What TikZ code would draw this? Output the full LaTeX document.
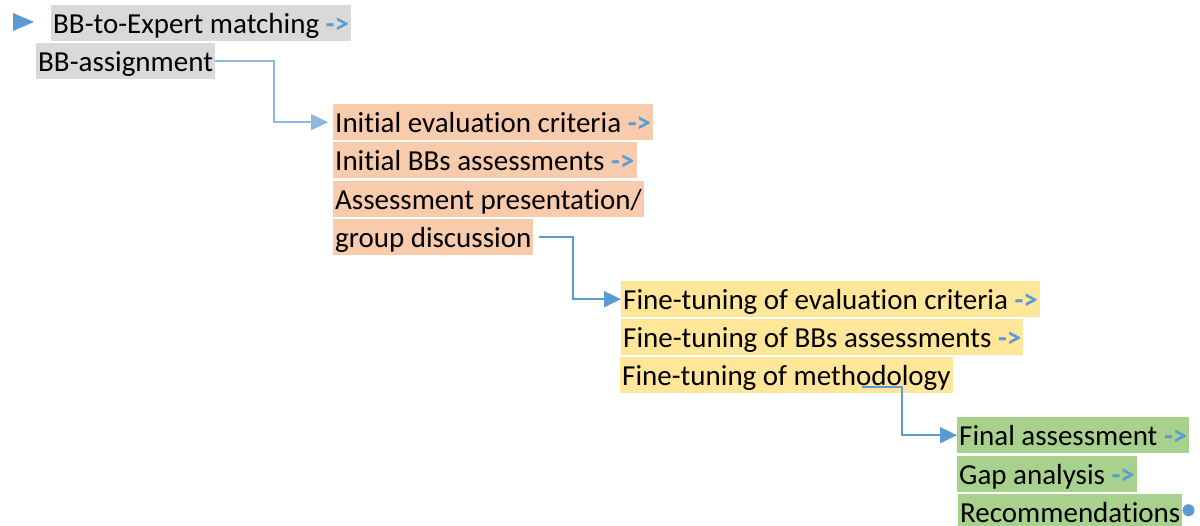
\documentclass[tikz,border=0pt]{standalone}
\usepackage{fontspec}
\setmainfont{Carlito}[Ligatures=NoCommon]
\usetikzlibrary{arrows.meta,calc}
\definecolor{hlgray}{HTML}{D9D9D9}
\definecolor{hlpeach}{HTML}{F8CBAD}
\definecolor{hlyellow}{HTML}{FFE699}
\definecolor{hlgreen}{HTML}{A9D18E}
\definecolor{ablue}{HTML}{5B9BD5}
\definecolor{lblue}{HTML}{8DB8E2}
\newcommand{\arr}{{\color{ablue}\bfseries ->}}
\tikzset{
  hl/.style={anchor=north west, inner xsep=2pt, inner ysep=0pt, text height=28pt, text depth=8pt,
    font=\fontsize{29}{34}\selectfont},
  conn/.style={ablue, line width=2pt, -{Triangle[length=17pt,width=16pt]}},
}
\begin{document}
\begin{tikzpicture}[x=1pt,y=-1pt]
\useasboundingbox (0,0) rectangle (1200,526);
% start marker
\fill[ablue] (13,13) -- (34,22) -- (13,31) -- cycle;
% rows
\node[hl, fill=hlgray] (m1) at (51,5) {BB-to-Expert matching \arr};
\node[hl, fill=hlgray] (m2) at (36,43) {BB-assignment};
\node[hl, fill=hlpeach] (p1) at (333,104) {Initial evaluation criteria \arr};
\node[hl, fill=hlpeach] (p2) at (333,142) {Initial BBs assessments \arr};
\node[hl, fill=hlpeach] (p3) at (333,181) {Assessment presentation/};
\node[hl, fill=hlpeach] (p4) at (333,219) {group discussion};
\node[hl, fill=hlyellow] (y1) at (621,281) {Fine-tuning of evaluation criteria \arr};
\node[hl, fill=hlyellow] (y2) at (621,319) {Fine-tuning of BBs assessments \arr};
\node[hl, fill=hlyellow] (y3) at (620,357) {Fine-tuning of methodology};
\node[hl, fill=hlgreen] (g1) at (957,417) {Final assessment \arr};
\node[hl, fill=hlgreen] (g2) at (957,456) {Gap analysis \arr};
\node[hl, fill=hlgreen, text depth=4pt] (g3) at (958,494) {Recommendations};
\fill[ablue] ($(g3.east)+(6,0)$) circle (6);
% connectors
\coordinate (c3) at (862,387);
\draw[conn, lblue, line width=1.5pt] (m2.east) -| ($(m2.east)!0.5!(p1.west)$) |- ($(p1.west)+(-5,0)$);
\draw[conn] ($(p4.east)+(5,0)$) -| ($(p4.east)+(39,0)$) |- (y1.west);
\draw[conn] (c3) -| ($(c3)+(40,0)$) |- (g1.west);
\end{tikzpicture}
\end{document}
